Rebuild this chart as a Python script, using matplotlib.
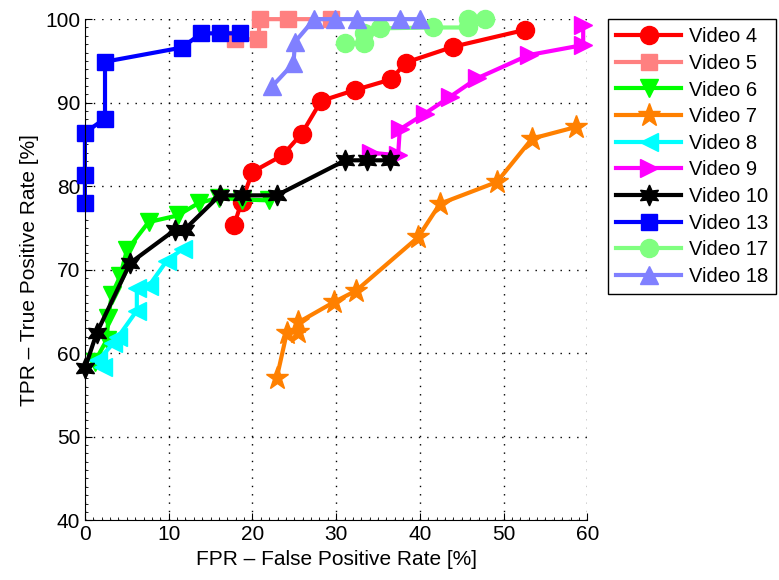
import numpy as np
import matplotlib
matplotlib.use("Agg")
import matplotlib.pyplot as plt
from matplotlib.ticker import MultipleLocator

plt.rcParams['font.family'] = ['Liberation Sans', 'DejaVu Sans']

# ROC points per video (FPR %, TPR %)
v4_x = [17.8, 18.7, 20.0, 23.6, 25.9, 28.2, 32.2, 36.6, 38.3, 44.0, 52.5]
v4_y = [75.3, 78.1, 81.7, 83.7, 86.3, 90.2, 91.5, 92.8, 94.8, 96.7, 98.7]

v5_x = [17.9, 20.7, 20.9, 24.3, 29.4]
v5_y = [97.6, 97.6, 100.0, 100.0, 100.0]

v6_x = [1.2, 2.6, 2.8, 3.2, 4.2, 5.0, 7.6, 11.1, 13.6, 16.0, 18.8, 22.0]
v6_y = [59.0, 61.6, 64.2, 67.0, 69.2, 72.3, 75.7, 76.5, 78.0, 78.6, 78.4, 78.3]

v7_x = [22.9, 24.1, 25.5, 25.5, 29.7, 32.4, 39.8, 42.4, 49.2, 53.4, 58.7]
v7_y = [57.0, 62.4, 62.6, 63.7, 66.1, 67.5, 73.9, 77.9, 80.5, 85.7, 87.1]

v8_x = [2.2, 1.6, 3.4, 4.0, 6.2, 6.2, 7.6, 9.8, 11.7]
v8_y = [58.4, 59.2, 61.2, 62.0, 65.1, 67.8, 68.0, 71.1, 72.5]

v9_x = [34.2, 37.4, 37.6, 40.6, 43.6, 46.8, 53.0, 59.5, 59.5]
v9_y = [84.0, 83.7, 86.8, 88.7, 90.7, 92.9, 95.7, 96.9, 99.3]

v10_x = [0.0, 1.4, 5.4, 10.8, 11.9, 16.1, 18.8, 22.9, 31.1, 33.7, 36.4]
v10_y = [58.2, 62.4, 70.8, 74.8, 74.8, 78.9, 78.9, 78.9, 83.1, 83.1, 83.1]

v13_x = [0.0, 0.0, 0.0, 2.4, 2.4, 11.6, 13.9, 16.1, 18.5]
v13_y = [78.0, 81.3, 86.4, 88.1, 94.9, 96.6, 98.3, 98.3, 98.3]

v17_x = [31.1, 33.3, 33.3, 35.2, 41.6, 45.8, 45.8, 47.8]
v17_y = [97.1, 97.1, 98.3, 98.9, 99.0, 99.0, 100.0, 100.0]

v18_x = [22.4, 24.9, 25.1, 27.4, 29.9, 32.5, 37.6, 40.0]
v18_y = [92.0, 94.7, 97.3, 100.0, 100.0, 100.0, 100.0, 100.0]

fig = plt.figure(figsize=(7.79, 5.8), dpi=100)
ax = fig.add_axes([0.109, 0.103, 0.645, 0.864])

hexagram = (6, 1, 0)
series = [
    (v4_x, v4_y, '#ff0000', 'o', 13, 'Video 4'),
    (v5_x, v5_y, '#ff8080', 's', 12, 'Video 5'),
    (v6_x, v6_y, '#00ff00', 'v', 13, 'Video 6'),
    (v7_x, v7_y, '#ff8000', '*', 17, 'Video 7'),
    (v8_x, v8_y, '#00ffff', '<', 13, 'Video 8'),
    (v9_x, v9_y, '#ff00ff', '>', 13, 'Video 9'),
    (v10_x, v10_y, '#000000', hexagram, 15, 'Video 10'),
    (v13_x, v13_y, '#0000ff', 's', 11, 'Video 13'),
    (v17_x, v17_y, '#80ff80', 'o', 13, 'Video 17'),
    (v18_x, v18_y, '#8080ff', '^', 13, 'Video 18'),
]
for x, y, c, m, ms, lab in series:
    ax.plot(x, y, color=c, marker=m, markersize=ms, linewidth=3,
            markeredgecolor=c, label=lab, clip_on=False)

ax.set_xlim(0, 60)
ax.set_ylim(40, 100)
ax.set_xticks(np.arange(0, 61, 10))
ax.set_yticks(np.arange(40, 101, 10))
ax.xaxis.set_minor_locator(MultipleLocator(1))
ax.yaxis.set_minor_locator(MultipleLocator(1))
ax.tick_params(which='both', direction='in', labelsize=15)
ax.tick_params(which='major', length=5)
ax.tick_params(which='minor', length=2)
ax.spines['top'].set_visible(False)
ax.spines['right'].set_visible(False)
ax.grid(True, which='major', linestyle=(0, (1, 5)), color='black', linewidth=1)
ax.set_axisbelow(True)

ax.set_xlabel('FPR – False Positive Rate [%]', fontsize=15)
ax.set_ylabel('TPR – True Positive Rate [%]', fontsize=15)

leg = ax.legend(loc='upper left', bbox_to_anchor=(0.781, 0.967),
                bbox_transform=fig.transFigure, fontsize=14.5,
                handlelength=3.2, labelspacing=0.38, borderpad=0.4,
                borderaxespad=0, fancybox=False, framealpha=1,
                edgecolor='black', handletextpad=0.4)
leg.get_frame().set_linewidth(1)

fig.savefig('out.png', dpi=100)
